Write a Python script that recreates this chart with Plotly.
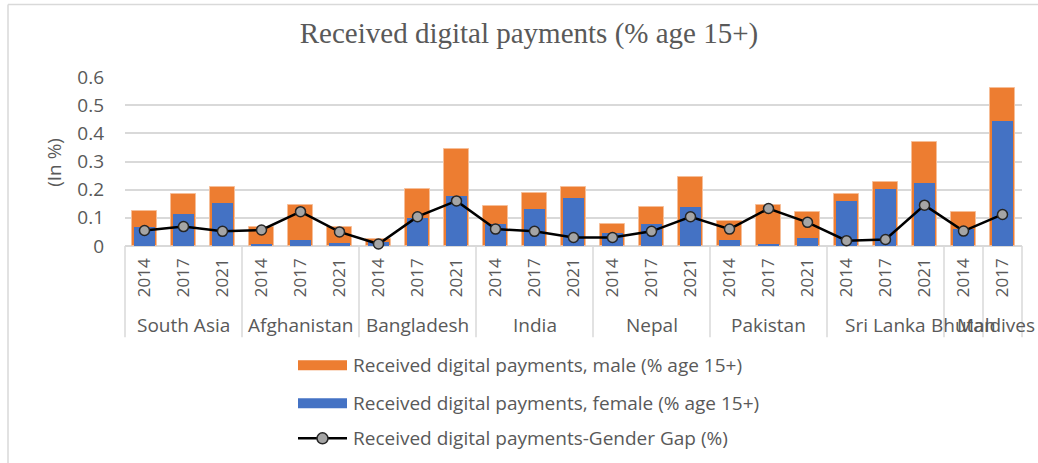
import plotly.graph_objects as go

# ---------------- data ----------------
countries = ["South Asia", "Afghanistan", "Bangladesh", "India", "Nepal",
             "Pakistan", "Sri Lanka", "Bhutan", "Maldives"]
country_years = [["2014", "2017", "2021"], ["2014", "2017", "2021"],
                 ["2014", "2017", "2021"], ["2014", "2017", "2021"],
                 ["2014", "2017", "2021"], ["2014", "2017", "2021"],
                 ["2014", "2017", "2021"], ["2014"], ["2017"]]

male = [0.125, 0.185, 0.211, 0.066, 0.146, 0.066, 0.025, 0.204, 0.344,
        0.143, 0.189, 0.208, 0.078, 0.140, 0.246, 0.089, 0.147, 0.120,
        0.184, 0.227, 0.371, 0.120, 0.560]
female = [0.069, 0.114, 0.154, 0.008, 0.021, 0.011, 0.015, 0.098, 0.178,
          0.079, 0.132, 0.171, 0.045, 0.079, 0.140, 0.021, 0.007, 0.030,
          0.159, 0.202, 0.223, 0.060, 0.444]
gap = [0.055, 0.069, 0.052, 0.057, 0.122, 0.050, 0.007, 0.104, 0.160,
       0.060, 0.052, 0.030, 0.030, 0.052, 0.104, 0.060, 0.133, 0.084,
       0.019, 0.023, 0.145, 0.053, 0.112]

y_ticks = [0, 0.1, 0.2, 0.3, 0.4, 0.5, 0.6]
y_ticktext = ["0", "0.1", "0.2", "0.3", "0.4", "0.5", "0.6"]

names = ["Received digital payments, male (% age 15+)",
         "Received digital payments, female (% age 15+)",
         "Received digital payments-Gender Gap (%)"]

years = [y for ys in country_years for y in ys]
xs = list(range(len(years)))
n = len(years)

# ---------------- layout geometry ----------------
W, H = 1038, 463
X0, X1 = 125, 1022      # plot area left/right (px)
Y0, Y1 = 246, 77.3      # plot area bottom/top (px)

def px_x(p):
    return (p - X0) / (X1 - X0)

def px_y(p):
    return (Y0 - p) / (Y0 - Y1)

GRAY = "#595959"
GRID = "#d9d9d9"
ORANGE = "#ED7D31"
BLUE = "#4472C4"
FONT = "Open Sans"

fig = go.Figure()
fig.add_trace(go.Bar(x=xs, y=male, name=names[0], width=0.64,
                     marker=dict(color=ORANGE, line=dict(color="#F6BE98", width=1)),
                     showlegend=False))
fig.add_trace(go.Bar(x=xs, y=female, name=names[1], width=0.52,
                     marker=dict(color=BLUE, line=dict(width=0)),
                     showlegend=False))
fig.add_trace(go.Scatter(x=xs, y=gap, name=names[2], mode="lines+markers",
                         line=dict(color="black", width=2.5),
                         marker=dict(symbol="circle", size=10, color="#A5A5A5",
                                     line=dict(color="#262626", width=1.5)),
                         cliponaxis=False, showlegend=False))

shapes = []
annotations = []

# category separators
bounds = [0]
for ys in country_years:
    bounds.append(bounds[-1] + len(ys))
for b in bounds:
    xp = b / n
    shapes.append(dict(type="line", xref="paper", yref="paper",
                       x0=xp, x1=xp, y0=0, y1=px_y(337),
                       line=dict(color=GRID, width=1.5)))

# group labels
for c, b0, b1 in zip(countries, bounds[:-1], bounds[1:]):
    ann = dict(text=c, xref="paper", yref="paper",
               x=(b0 + b1) / 2 / n, y=px_y(325),
               showarrow=False, xanchor="center", yanchor="middle",
               font=dict(family=FONT, size=19, color=GRAY))
    if c == "Maldives":
        ann.update(x=px_x(1037), xanchor="right")
    annotations.append(ann)

# chart border (left + top)
shapes.append(dict(type="line", xref="paper", yref="paper",
                   x0=px_x(8), x1=px_x(8), y0=px_y(5), y1=px_y(470),
                   line=dict(color=GRID, width=1.5)))
shapes.append(dict(type="line", xref="paper", yref="paper",
                   x0=px_x(8), x1=px_x(1045), y0=px_y(5), y1=px_y(5),
                   line=dict(color=GRID, width=1.5)))

# y-axis title
annotations.append(dict(text="(In %)", xref="paper", yref="paper",
                        x=px_x(54), y=px_y(163), textangle=-90,
                        showarrow=False, xanchor="center", yanchor="middle",
                        font=dict(family=FONT, size=19, color=GRAY)))

# manual legend
leg_y = [365, 403, 438]
sw0, sw1 = 298, 347
shapes.append(dict(type="rect", xref="paper", yref="paper",
                   x0=px_x(sw0), x1=px_x(sw1), y0=px_y(leg_y[0] - 5), y1=px_y(leg_y[0] + 5),
                   fillcolor=ORANGE, line=dict(width=0)))
shapes.append(dict(type="rect", xref="paper", yref="paper",
                   x0=px_x(sw0), x1=px_x(sw1), y0=px_y(leg_y[1] - 5), y1=px_y(leg_y[1] + 5),
                   fillcolor=BLUE, line=dict(width=0)))
shapes.append(dict(type="line", xref="paper", yref="paper",
                   x0=px_x(sw0), x1=px_x(sw1), y0=px_y(leg_y[2]), y1=px_y(leg_y[2]),
                   line=dict(color="black", width=2.5)))
shapes.append(dict(type="circle", xref="paper", yref="paper",
                   x0=px_x(322.5 - 5.5), x1=px_x(322.5 + 5.5),
                   y0=px_y(leg_y[2] - 5.5), y1=px_y(leg_y[2] + 5.5),
                   fillcolor="#A5A5A5", line=dict(color="#262626", width=1.5)))
for nm, ly in zip(names, leg_y):
    annotations.append(dict(text=nm, xref="paper", yref="paper",
                            x=px_x(351), y=px_y(ly), showarrow=False,
                            xanchor="left", yanchor="middle",
                            font=dict(family=FONT, size=19, color=GRAY)))

fig.update_layout(
    width=W, height=H,
    margin=dict(l=X0, r=W - X1, t=Y1, b=H - Y0),
    paper_bgcolor="white", plot_bgcolor="white",
    barmode="overlay", bargap=0,
    title=dict(text="Received digital payments (% age 15+)",
               x=529 / W, xanchor="center", xref="container",
               y=1 - 33 / H, yanchor="middle", yref="container",
               font=dict(family="Liberation Serif", size=29, color=GRAY)),
    xaxis=dict(range=[-0.5, n - 0.5], tickmode="array", tickvals=xs, ticktext=years,
               tickangle=-90, showgrid=False, zeroline=False, showline=False,
               ticks="", ticklabelstandoff=8,
               tickfont=dict(family=FONT, size=17, color=GRAY)),
    yaxis=dict(range=[0, 0.6], tickmode="array", tickvals=y_ticks, ticktext=y_ticktext,
               showgrid=True, gridcolor=GRID, gridwidth=1.5, zeroline=True,
               zerolinecolor=GRID, zerolinewidth=1.5, showline=False, ticks="",
               ticklabelstandoff=20,
               tickfont=dict(family=FONT, size=19, color=GRAY)),
    shapes=shapes, annotations=annotations,
    font=dict(family=FONT, color=GRAY),
)

fig.write_html("out.html", config={"displayModeBar": False},
               post_script="document.body.style.margin='0px';document.body.style.overflow='hidden';")
